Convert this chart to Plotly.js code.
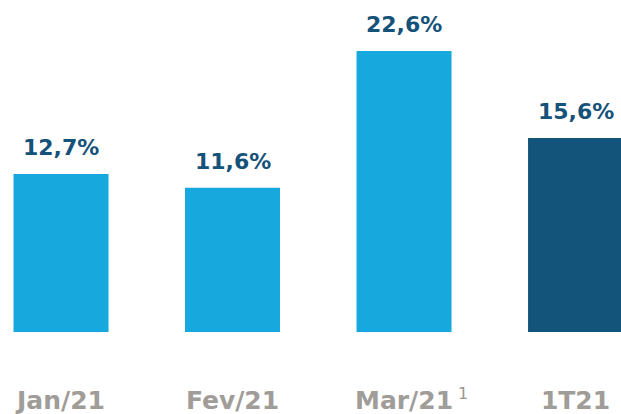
<!DOCTYPE html>
<html>
<head>
<meta charset="utf-8">
<script src="https://cdn.plot.ly/plotly-3.0.1.min.js"></script>
<style>html,body{margin:0;padding:0;background:#fff}#chart{width:621px;height:414px}</style>
</head>
<body>
<div id="chart"></div>
<script>
const categories = ['Jan/21', 'Fev/21', 'Mar/21', '1T21'];
const values = [12.7, 11.6, 22.6, 15.6];
const barColors = ['#17a8de', '#17a8de', '#17a8de', '#13557a'];
const valueLabels = values.map(v => v.toFixed(1).replace('.', ',') + '%');
const footnoteCategory = 'Mar/21';
const footnoteText = '1';

const FONT = 'DejaVu Sans, Verdana, sans-serif';

const trace = {
  type: 'bar',
  x: categories,
  y: values,
  marker: {color: barColors},
  width: 0.554,
  hoverinfo: 'none'
};

const annotations = values.map((v, i) => ({
  x: categories[i], y: v, xref: 'x', yref: 'y',
  text: '<b>' + valueLabels[i] + '</b>',
  showarrow: false, yanchor: 'bottom', yshift: 12,
  font: {family: FONT, size: 22, color: '#15527a'}
}));
annotations.push({
  x: footnoteCategory, y: 0, xref: 'x', yref: 'y',
  text: footnoteText, showarrow: false,
  xanchor: 'center', yanchor: 'top', xshift: 59, yshift: -50,
  font: {family: FONT, size: 16, color: '#9a9692'}
});

const layout = {
  width: 621, height: 414,
  margin: {l: 0, r: 0, t: 0, b: 82},
  paper_bgcolor: '#ffffff', plot_bgcolor: '#ffffff',
  showlegend: false,
  xaxis: {
    type: 'category', range: [-0.3557, 3.265],
    showgrid: false, zeroline: false, showline: false, ticks: '',
    ticklabelstandoff: 51,
    tickfont: {family: FONT, size: 25, color: '#a09c98', weight: 'bold'}
  },
  yaxis: {
    range: [0, 26.7], visible: false, showgrid: false, zeroline: false
  },
  annotations: annotations
};

Plotly.newPlot('chart', [trace], layout, {staticPlot: true});
</script>
</body>
</html>
